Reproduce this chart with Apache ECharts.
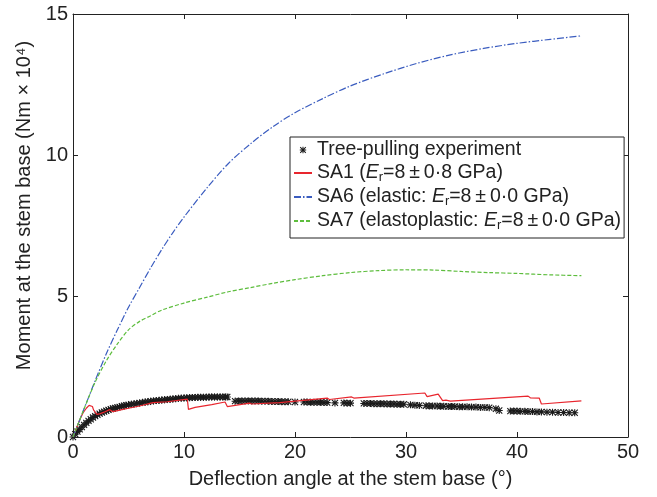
<!DOCTYPE html>
<html><head><meta charset="utf-8">
<script src="https://cdn.jsdelivr.net/npm/echarts@6/dist/echarts.min.js"></script>
<style>html,body{margin:0;padding:0;background:#fff}#c{width:657px;height:497px}</style>
</head><body><div id="c"></div>
<script>
// ---- data ----
const xTicks = [0, 10, 20, 30, 40, 50];
const yTicks = [0, 5, 10, 15];
const seriesNames = ['Tree-pulling experiment', 'SA1', 'SA6', 'SA7'];

// tree-pulling experiment (deflection angle °, moment Nm×10^4)
const treeData = [
 [0,0],[0.2,0.1],[0.4,0.19],[0.6,0.27],[0.8,0.35],[1.0,0.43],[1.2,0.5],[1.4,0.57],[1.6,0.63],[1.8,0.69],
 [2.0,0.74],[2.2,0.79],[2.4,0.83],[2.6,0.87],[2.8,0.9],[3.0,0.93],[3.2,0.96],[3.4,0.99],[3.6,1.01],[3.8,1.03],
 [4.0,1.05],[4.2,1.07],[4.4,1.09],[4.6,1.11],[4.8,1.13],[5.0,1.14],[5.25,1.16],[5.5,1.17],[5.75,1.19],[6.0,1.21],
 [6.25,1.22],[6.5,1.24],[6.75,1.25],[7.0,1.27],[7.25,1.28],[7.5,1.29],[7.75,1.3],[8.0,1.31],[8.25,1.32],[8.5,1.33],
 [8.75,1.34],[9.0,1.35],[9.25,1.36],[9.5,1.37],[9.75,1.38],[10.0,1.38],[10.25,1.39],[10.5,1.39],[10.75,1.4],[11.0,1.4],
 [11.25,1.41],[11.5,1.41],[11.75,1.41],[12.0,1.41],[12.25,1.42],[12.5,1.42],[12.75,1.42],[13.0,1.42],[13.25,1.42],[13.5,1.42],
 [13.75,1.42],[13.9,1.42],
 [14.6,1.27],[14.9,1.28],[15.2,1.28],[15.5,1.28],[15.8,1.28],[16.1,1.28],[16.4,1.28],[16.7,1.28],[17.0,1.27],[17.3,1.27],
 [17.6,1.27],[17.9,1.26],[18.2,1.26],[18.5,1.26],[18.8,1.25],[19.1,1.25],[19.4,1.25],[20.0,1.24],[20.8,1.24],[21.1,1.24],
 [21.4,1.23],[21.7,1.23],[22.0,1.23],[22.3,1.23],[22.6,1.22],[22.9,1.22],[23.6,1.21],[24.4,1.21],[24.7,1.2],[25.0,1.2],
 [26.2,1.19],[26.5,1.19],[26.8,1.19],[27.1,1.18],[27.4,1.18],[27.7,1.18],[28.0,1.18],[28.3,1.17],[28.6,1.17],[28.9,1.17],
 [29.2,1.16],[29.5,1.16],[29.8,1.16],[30.4,1.14],[30.8,1.13],[31.2,1.12],[31.8,1.11],[32.1,1.1],[32.4,1.1],[32.8,1.1],
 [33.1,1.09],[33.4,1.09],[33.8,1.08],[34.1,1.08],[34.4,1.08],[34.8,1.07],[35.1,1.07],[35.5,1.07],[35.9,1.06],[36.3,1.06],
 [36.7,1.05],[37.1,1.05],[37.5,1.04],[38.1,1.0],[38.4,0.94],[39.4,0.92],[39.7,0.92],[40.0,0.92],[40.3,0.91],[40.7,0.91],
 [41.0,0.9],[41.4,0.9],[41.8,0.89],[42.2,0.89],[42.7,0.88],[43.2,0.88],[43.7,0.87],[44.2,0.87],[44.7,0.86],[45.2,0.86]
];

// SA1 (Er = 8 ± 0.8 GPa)
const sa1Data = [
 [0,0],[0.3,0.3],[0.6,0.6],[0.9,0.85],[1.2,1.02],[1.45,1.12],[1.6,1.05],[1.75,1.08],[1.85,0.96],[2.0,1.0],
 [2.15,0.8],[2.4,0.82],[2.8,0.88],[3.3,0.97],[3.45,0.99],[3.6,0.9],[4.2,0.95],[5.0,1.02],[6.0,1.1],[7.2,1.22],
 [7.3,1.16],[8.5,1.25],[10.3,1.34],[10.4,0.98],[11.0,1.05],[12.5,1.15],[13.7,1.24],[13.9,1.08],[15.9,1.2],[16.1,1.17],
 [18.6,1.22],[22.9,1.38],[23.1,1.33],[25.1,1.42],[25.3,1.38],[31.7,1.56],[31.9,1.43],[32.9,1.52],[33.3,1.29],[33.6,1.31],
 [34.0,1.27],[41.0,1.45],[41.2,1.39],[42.0,1.38],[42.2,1.17],[45.8,1.28]
];

// SA6 (elastic)
const sa6Data = [
 [0,0],[1,1.0],[2,2.0],[3,2.95],[4,3.8],[5,4.6],[6,5.3],[7,6.0],[8,6.65],[9,7.25],
 [10,7.8],[12,8.8],[14,9.7],[16,10.4],[18,11.0],[20,11.5],[22.5,12.0],[25,12.45],[28,12.88],[31,13.25],
 [34,13.55],[37,13.78],[40,13.96],[43,14.1],[45.7,14.22]
];

// SA7 (elastoplastic)
const sa7Data = [
 [0,0],[1,1.0],[2,1.95],[3,2.7],[4,3.3],[5,3.8],[6,4.1],[7,4.3],[8,4.5],[10,4.75],
 [12,4.95],[14,5.15],[16,5.3],[18,5.45],[20,5.58],[22.5,5.72],[25,5.83],[27.5,5.9],[30,5.93],[32.5,5.92],
 [35,5.87],[37.5,5.83],[40,5.8],[43,5.75],[45.8,5.72]
];

const TS = '\u2009';
const legendLabels = {
  'Tree-pulling experiment': '{n|Tree-pulling experiment}',
  'SA1': '{n|SA1 (}{i|E}{s|r}{n|=8' + TS + '±' + TS + '0·8 GPa)}',
  'SA6': '{n|SA6 (elastic: }{i|E}{s|r}{n|=8' + TS + '±' + TS + '0·0 GPa)}',
  'SA7': '{n|SA7 (elastoplastic: }{i|E}{s|r}{n|=8' + TS + '±' + TS + '0·0 GPa)}'
};

// ---- styling ----
const FONT = 'Liberation Sans, Arial, sans-serif';
const FS = 20;
const LFS = 19.5;
const INK = '#222';
const asterisk = 'path://M4.2,0H5.8V10H4.2Z M0,4.2H10V5.8H0Z M1.2,0.1L9.9,8.8L8.8,9.9L0.1,1.2Z M8.8,0.1L9.9,1.2L1.2,9.9L0.1,8.8Z';

const chart = echarts.init(document.getElementById('c'), null, {renderer: 'canvas'});

function xAx(pos, main) {
  return {
    type: 'value', position: pos, min: xTicks[0], max: xTicks[xTicks.length - 1], interval: 10,
    axisLine: {show: true, onZero: false, lineStyle: {color: INK, width: 1}},
    axisTick: {show: true, inside: true, length: 5, lineStyle: {color: INK}},
    axisLabel: {show: main, fontFamily: FONT, fontSize: FS, color: INK, margin: 5},
    splitLine: {show: false},
    name: main ? 'Deflection angle at the stem base (°)' : '',
    nameLocation: 'middle', nameGap: 32,
    nameTextStyle: {fontFamily: FONT, fontSize: FS, color: INK}
  };
}
function yAx(pos, main) {
  return {
    type: 'value', position: pos, min: yTicks[0], max: yTicks[yTicks.length - 1], interval: 5,
    axisLine: {show: true, onZero: false, lineStyle: {color: INK, width: 1}},
    axisTick: {show: true, inside: true, length: 5, lineStyle: {color: INK}},
    axisLabel: {show: main, fontFamily: FONT, fontSize: FS, color: INK, margin: 5},
    splitLine: {show: false},
    name: main ? 'Moment at the stem base (Nm × 10⁴)' : '',
    nameLocation: 'middle', nameGap: 35, nameRotate: 90,
    nameTextStyle: {fontFamily: FONT, fontSize: FS, color: INK, padding: [0, 0, 0, 40]}
  };
}

const option = {
  animation: false,
  backgroundColor: '#fff',
  grid: {left: 73, right: 29, top: 14, bottom: 60, containLabel: false},
  xAxis: [xAx('bottom', true), xAx('top', false)],
  yAxis: [yAx('left', true), yAx('right', false)],
  legend: {
    orient: 'vertical', left: 290, top: 137,
    padding: [3, 3, 6, 3], itemGap: 3, itemWidth: 18, itemHeight: 8, itemTextGap: 4,
    borderColor: INK, borderWidth: 1, backgroundColor: '#fff',
    data: [
      {name: seriesNames[0]},
      {name: seriesNames[1], itemStyle: {opacity: 0}},
      {name: seriesNames[2], itemStyle: {opacity: 0}},
      {name: seriesNames[3], itemStyle: {opacity: 0}}
    ],
    formatter: name => legendLabels[name],
    textStyle: {
      fontFamily: FONT, fontSize: LFS, color: INK,
      rich: {
        n: {fontFamily: FONT, fontSize: LFS, color: INK},
        i: {fontFamily: FONT, fontSize: LFS, color: INK, fontStyle: 'italic'},
        s: {fontFamily: FONT, fontSize: 13, color: INK, padding: [9, 0, 0, 0]}
      }
    }
  },
  series: [
    {
      name: seriesNames[0], type: 'line', data: treeData,
      symbol: asterisk, symbolSize: 7, showSymbol: true, showAllSymbol: true,
      lineStyle: {width: 0, opacity: 0},
      itemStyle: {color: '#1a1a1a'}, z: 2
    },
    {
      name: seriesNames[1], type: 'line', data: sa1Data, symbol: 'none', showSymbol: false,
      lineStyle: {color: '#e8262e', width: 1.2}, itemStyle: {color: '#e8262e'}, z: 3
    },
    {
      name: seriesNames[2], type: 'line', data: sa6Data, symbol: 'none', showSymbol: false, smooth: 0.3,
      lineStyle: {color: '#3a5cbf', width: 1.2, type: [7, 2, 1.5, 2]}, itemStyle: {color: '#3a5cbf'}, z: 3
    },
    {
      name: seriesNames[3], type: 'line', data: sa7Data, symbol: 'none', showSymbol: false, smooth: 0.3,
      lineStyle: {color: '#5dbd3d', width: 1.2, type: [4, 2]}, itemStyle: {color: '#5dbd3d'}, z: 3
    }
  ]
};
chart.setOption(option);
</script>
</body></html>
